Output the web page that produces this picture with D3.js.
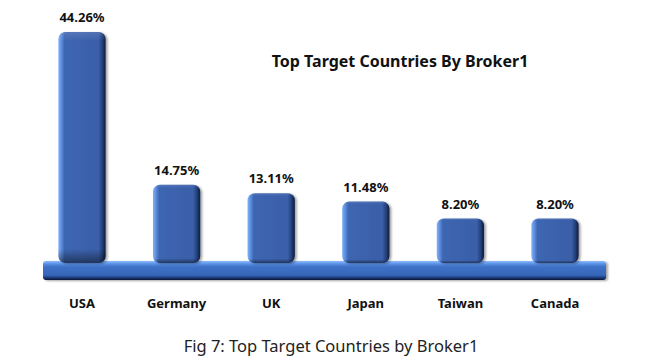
<!DOCTYPE html>
<html><head><meta charset="utf-8">
<script src="https://cdn.jsdelivr.net/npm/d3@7"></script>
<style>body{margin:0;background:#fff}svg{display:block}</style>
</head><body>
<script>
const categories = ["USA","Germany","UK","Japan","Taiwan","Canada"];
const values = [44.26,14.75,13.11,11.48,8.20,8.20];
const valueLabels = ["44.26%","14.75%","13.11%","11.48%","8.20%","8.20%"];
const chartTitle = "Top Target Countries By Broker1";
const caption = "Fig 7: Top Target Countries by Broker1";

const W=662,H=360;
const svg=d3.select("body").append("svg").attr("width",W).attr("height",H);
const defs=svg.append("defs");
const bg=defs.append("linearGradient").attr("id","barGrad").attr("x1","0").attr("x2","1").attr("y1","0").attr("y2","0");
[[0,"#7fb2fa"],[0.06,"#5f90e0"],[0.13,"#3e66b2"],[0.85,"#3a5fa8"],[0.93,"#23407c"],[1,"#0e1a36"]].forEach(s=>bg.append("stop").attr("offset",s[0]).attr("stop-color",s[1]));
const bgv=defs.append("linearGradient").attr("id","barShade").attr("x1","0").attr("x2","0").attr("y1","0").attr("y2","1");
[[0,"#ffffff",0.12],[0.04,"#ffffff",0],[0.94,"#000000",0],[1,"#000000",0.45]].forEach(s=>bgv.append("stop").attr("offset",s[0]).attr("stop-color",s[1]).attr("stop-opacity",s[2]));
const pg=defs.append("linearGradient").attr("id","baseGrad").attr("x1","0").attr("x2","0").attr("y1","0").attr("y2","1");
[[0,"#8cbcff"],[0.15,"#5c91e6"],[0.3,"#3e72c8"],[0.75,"#3566b8"],[0.88,"#1d3a78"],[1,"#0b1530"]].forEach(s=>pg.append("stop").attr("offset",s[0]).attr("stop-color",s[1]));
const f=defs.append("filter").attr("id","sh").attr("x","-20%").attr("y","-20%").attr("width","150%").attr("height","150%");
f.append("feDropShadow").attr("dx",2).attr("dy",1).attr("stdDeviation",1.2).attr("flood-color","#000").attr("flood-opacity",0.35);

const x=d3.scaleBand().domain(categories).range([34.7,602.3]).paddingInner(0.5).paddingOuter(0.25);
const y=d3.scaleLinear().domain([0,44.26]).range([261,32]);

// base platform
svg.append("rect").attr("x",43).attr("y",261).attr("width",563).attr("height",19).attr("rx",3)
  .attr("fill","url(#baseGrad)").attr("filter","url(#sh)");

const g=svg.append("g");
const bars=g.selectAll("g.bar").data(values).join("g").attr("class","bar");
bars.append("rect").attr("x",(d,i)=>x(categories[i])).attr("y",d=>y(d)).attr("width",x.bandwidth())
  .attr("height",d=>y(0)-y(d)+2).attr("rx",7).attr("fill","url(#barGrad)").attr("filter","url(#sh)");
bars.append("rect").attr("x",(d,i)=>x(categories[i])).attr("y",d=>y(d)).attr("width",x.bandwidth())
  .attr("height",d=>y(0)-y(d)+2).attr("rx",7).attr("fill","url(#barShade)");

const font="'Noto Sans', sans-serif";
svg.selectAll("text.val").data(values).join("text").attr("class","val")
  .attr("x",(d,i)=>x(categories[i])+x.bandwidth()/2).attr("y",d=>y(d)-10)
  .attr("text-anchor","middle").attr("font-family",font).attr("font-weight","bold").attr("font-size",13).attr("fill","#111")
  .text((d,i)=>valueLabels[i]);
svg.selectAll("text.cat").data(categories).join("text").attr("class","cat")
  .attr("x",d=>x(d)+x.bandwidth()/2).attr("y",308)
  .attr("text-anchor","middle").attr("font-family",font).attr("font-weight","bold").attr("font-size",13).attr("fill","#111")
  .text(d=>d);
svg.append("text").attr("x",400).attr("y",67).attr("text-anchor","middle").attr("font-family",font)
  .attr("font-weight","bold").attr("font-size",16).attr("fill","#111").text(chartTitle);
svg.append("text").attr("x",331).attr("y",352).attr("text-anchor","middle").attr("font-family",font)
  .attr("font-size",16.5).attr("fill","#222").text(caption);
</script>
</body></html>
